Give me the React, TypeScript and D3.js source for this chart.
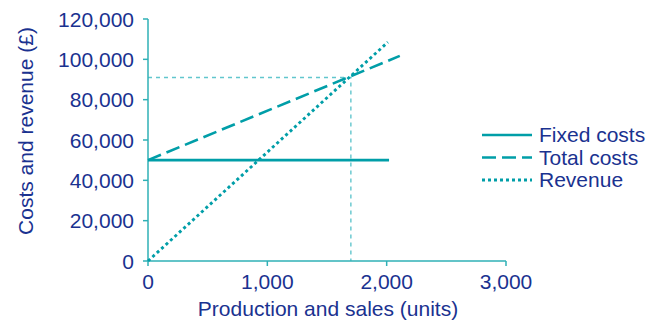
import React from "react";
import * as d3 from "d3";

const yTicks = [0, 20000, 40000, 60000, 80000, 100000, 120000];
const xTicks = [0, 1000, 2000, 3000];
const fixedCosts: [number, number][] = [[0, 50000], [2020, 50000]];
const totalCosts: [number, number][] = [[0, 50000], [2110, 101700]];
const revenue: [number, number][] = [[0, 0], [2010, 108500]];
const breakEven: [number, number] = [1700, 91000];
const legendItems = ["Fixed costs", "Total costs", "Revenue"];
const legendDash = ["none", "14 6", "3 3"];

export default function App() {
  const W = 652, H = 323;
  const x = d3.scaleLinear().domain([0, 3000]).range([148, 506]);
  const y = d3.scaleLinear().domain([0, 120000]).range([261, 19]);
  const line = d3.line<[number, number]>().x(d => x(d[0])).y(d => y(d[1]));
  const fmt = d3.format(",");
  const teal = "#009ea8";
  const axisC = "#2fb0b6";
  const textC = "#1a3290";
  const font = "Liberation Sans, Arial, sans-serif";
  const fs = 21;
  const series = [fixedCosts, totalCosts, revenue];
  return (
    <svg width={W} height={H} style={{ position: "absolute", left: 0, top: 0 }} fontFamily={font}>
      {/* break-even guides */}
      <path d={`M${x(0)},${y(breakEven[1])}H${x(breakEven[0])}V${y(0)}`} fill="none" stroke="#62c6cd" strokeWidth={1.4} strokeDasharray="4 4" />
      {/* axes */}
      <line x1={x(0)} x2={x(3000)} y1={y(0)} y2={y(0)} stroke={axisC} strokeWidth={1.5} />
      <line x1={x(0)} x2={x(0)} y1={y(0)} y2={y(120000)} stroke={axisC} strokeWidth={1.5} />
      {yTicks.map(t => (
        <g key={"y" + t}>
          <line x1={x(0) - 5} x2={x(0)} y1={y(t)} y2={y(t)} stroke={axisC} strokeWidth={1.5} />
          <text x={134} y={y(t) + 7.5} textAnchor="end" fontSize={fs} fill={textC}>{fmt(t)}</text>
        </g>
      ))}
      {xTicks.map(t => (
        <g key={"x" + t}>
          <line x1={x(t)} x2={x(t)} y1={y(0)} y2={y(0) + 5} stroke={axisC} strokeWidth={1.5} />
          <text x={x(t)} y={289} textAnchor="middle" fontSize={fs} fill={textC}>{fmt(t)}</text>
        </g>
      ))}
      <text x={328} y={316} textAnchor="middle" fontSize={fs} fill={textC}>Production and sales (units)</text>
      <text transform="translate(33,131) rotate(-90)" textAnchor="middle" fontSize={fs} fill={textC}>Costs and revenue (£)</text>
      {series.map((s, i) => (
        <path key={i} d={line(s) || ""} fill="none" stroke={teal} strokeWidth={i === 2 ? 2.9 : 2.6} strokeDasharray={legendDash[i]} />
      ))}
      {legendItems.map((l, i) => (
        <g key={l}>
          <line x1={482} x2={532} y1={135 + i * 22.5} y2={135 + i * 22.5} stroke={teal} strokeWidth={i === 2 ? 2.9 : 2.6} strokeDasharray={legendDash[i]} />
          <text x={539} y={142 + i * 22.5} fontSize={fs} fill={textC}>{l}</text>
        </g>
      ))}
    </svg>
  );
}
